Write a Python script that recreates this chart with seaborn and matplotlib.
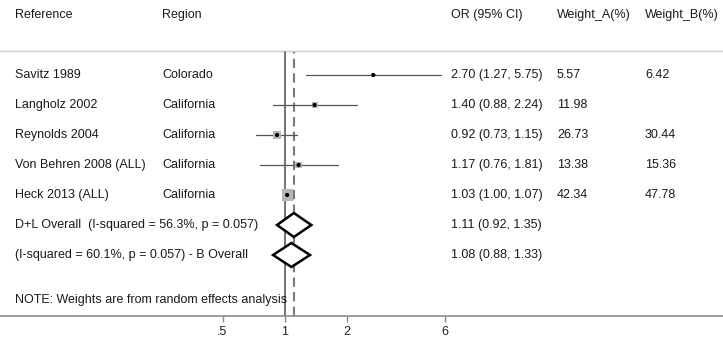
import numpy as np
import pandas as pd
import matplotlib
matplotlib.use("Agg")
import matplotlib.pyplot as plt
import matplotlib.transforms as mtransforms
from matplotlib.patches import Polygon
import seaborn as sns

# ---- data ----
references = ["Savitz 1989", "Langholz 2002", "Reynolds 2004",
              "Von Behren 2008 (ALL)", "Heck 2013 (ALL)"]
regions = ["Colorado", "California", "California", "California", "California"]
or_est = [2.70, 1.40, 0.92, 1.17, 1.03]
ci_low = [1.27, 0.88, 0.73, 0.76, 1.00]
ci_high = [5.75, 2.24, 1.15, 1.81, 1.07]
weight_a = ["5.57", "11.98", "26.73", "13.38", "42.34"]
weight_b = ["6.42", "", "30.44", "15.36", "47.78"]
weight_num = [5.57, 11.98, 26.73, 13.38, 42.34]

overall_labels = ["D+L Overall  (I-squared = 56.3%, p = 0.057)",
                  "(I-squared = 60.1%, p = 0.057) - B Overall"]
overall_est = [1.11, 1.08]
overall_low = [0.92, 0.88]
overall_high = [1.35, 1.33]

headers = ["Reference", "Region", "OR (95% CI)", "Weight_A(%)", "Weight_B(%)"]
note = "NOTE: Weights are from random effects analysis"
tick_values = [0.5, 1, 2, 6]
tick_labels = [".5", "1", "2", "6"]

df = pd.DataFrame({"ref": references, "region": regions, "or": or_est,
                   "lo": ci_low, "hi": ci_high, "w": weight_num,
                   "row": np.arange(len(references))})

# ---- figure ----
sns.set_style("white")
plt.rcParams["font.family"] = ["Liberation Sans", "DejaVu Sans"]
W, H = 723, 343
fig = plt.figure(figsize=(W / 100, H / 100), dpi=100)
axis_px = 316
ax = fig.add_axes([0, (H - axis_px) / H, 1, axis_px / H])

ax.set_xscale("log", base=2)
px_per_doubling = 62.0
one_px = 284.5
ax.set_xlim(2 ** (-one_px / px_per_doubling), 2 ** ((W - one_px) / px_per_doubling))
row_px0, row_step = 75.0, 30.0
ax.set_ylim((axis_px - row_px0) / row_step, -row_px0 / row_step)

for s in ["top", "left", "right"]:
    ax.spines[s].set_visible(False)
ax.spines["bottom"].set_color("#8c8c8c")
ax.spines["bottom"].set_linewidth(1.2)
ax.set_yticks([])
ax.set_xticks(tick_values)
ax.set_xticklabels(tick_labels)
ax.xaxis.set_minor_locator(matplotlib.ticker.NullLocator())
ax.tick_params(axis="x", direction="out", length=4, width=1, color="#8c8c8c",
               labelsize=9, labelcolor="#222222", pad=3, bottom=True)

txt_color = "#1a1a1a"
fs = 9
trans = mtransforms.blended_transform_factory(ax.transAxes, ax.transData)
col_x = [15 / W, 162 / W, 451 / W, 557 / W, 645 / W]

# header
header_y = (15 - row_px0) / row_step
for x, h in zip(col_x, headers):
    ax.text(x, header_y, h, transform=trans, fontsize=fs, color=txt_color,
            va="center", ha="left", clip_on=False)
sep_y = (51 - row_px0) / row_step
ax.axhline(sep_y, color="#cfcfcf", lw=1)

# reference lines
top_frac = (axis_px - 52) / axis_px
ax.axvline(1, ymin=0, ymax=top_frac, color="#4d4d4d", lw=1.1)
ax.axvline(overall_est[0], ymin=0, ymax=top_frac, color="#7a7a7a", lw=1.5,
           dashes=(4.5, 2.5))

# study CIs
for _, r in df.iterrows():
    ax.plot([r["lo"], r["hi"]], [r["row"], r["row"]], color="#555555", lw=0.9)

# weight squares (side proportional to sqrt(weight))
sizes = (1.7 * np.sqrt(df["w"]) * 0.72) ** 2
ax.scatter(df["or"], df["row"], s=sizes, marker="s", color="#b5b5b5",
           edgecolor="none", zorder=3)
sns.scatterplot(data=df, x="or", y="row", ax=ax, color="black", s=9,
                marker="o", edgecolor="none", zorder=4, legend=False)
ax.set_xlabel("")
ax.set_ylabel("")

# text columns for studies
or_text = [f"{o:.2f} ({l:.2f}, {h:.2f})" for o, l, h in zip(or_est, ci_low, ci_high)]
for i in range(len(references)):
    vals = [references[i], regions[i], or_text[i], weight_a[i], weight_b[i]]
    for x, v in zip(col_x, vals):
        ax.text(x, i, v, transform=trans, fontsize=fs, color=txt_color,
                va="center", ha="left")

# overall diamonds
half_h = 0.4
for j in range(len(overall_est)):
    row = len(references) + j
    poly = Polygon([[overall_low[j], row], [overall_est[j], row - half_h],
                    [overall_high[j], row], [overall_est[j], row + half_h]],
                   closed=True, facecolor="white", edgecolor="black", lw=1.8,
                   zorder=5)
    ax.add_patch(poly)
    ax.text(col_x[0], row, overall_labels[j], transform=trans, fontsize=fs,
            color=txt_color, va="center", ha="left")
    ax.text(col_x[2], row, f"{overall_est[j]:.2f} ({overall_low[j]:.2f}, {overall_high[j]:.2f})",
            transform=trans, fontsize=fs, color=txt_color, va="center", ha="left")

note_y = (300 - row_px0) / row_step
ax.text(col_x[0], note_y, note, transform=trans, fontsize=fs, color=txt_color,
        va="center", ha="left")

fig.savefig("out.png", dpi=100)
